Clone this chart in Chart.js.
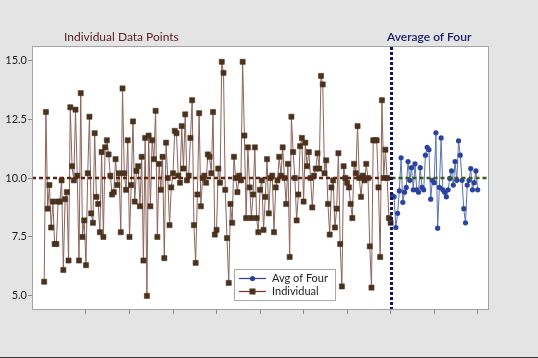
<!DOCTYPE html>
<html><head><meta charset="utf-8">
<style>
html,body{margin:0;padding:0;background:#e4e4e4;}
canvas{display:block;}
</style>
<script src="https://cdn.jsdelivr.net/npm/chart.js@4.4.1/dist/chart.umd.min.js"></script>
</head><body>
<canvas id="c" width="538" height="358"></canvas>
<script>
// ---- data ----
const individual = [
 5.6, 12.8, 8.7, 9.7, 7.9, 9.0, 7.2, 7.2, 9.0, 9.0, 9.9, 6.1, 9.1, 9.4, 6.5, 13.0, 10.5, 9.9, 12.9, 10.1,
 6.5, 13.6, 7.5, 8.2, 6.3, 10.2, 12.6, 8.5, 8.1, 11.9, 9.2, 8.9, 7.7, 11.1, 7.5, 11.3, 11.6, 11.0, 10.1, 9.3,
 9.4, 10.8, 9.7, 10.2, 7.7, 13.8,
 10.2, 9.5, 11.6, 7.5, 9.7, 12.4, 9.0, 10.3, 10.5, 8.8, 10.9, 6.5, 11.7, 5.0, 11.8, 8.8, 11.6, 10.8, 12.85, 7.5,
 10.6, 9.5, 10.9, 6.6, 11.5, 10.0, 8.0, 9.6, 10.2, 12.0, 11.9, 10.1, 9.8, 12.2, 10.4, 12.7, 9.9, 10.1, 11.7, 13.3,
 8.0, 6.4, 9.3, 12.75, 8.8, 10.0, 10.1, 9.8, 11.0,
 10.9, 10.2, 12.8, 7.6, 7.8, 10.4, 9.8, 14.93, 14.46, 9.5, 7.45, 5.55, 8.9, 8.1, 10.9, 10.0, 9.4, 10.1, 9.9, 14.93,
 11.8, 8.3, 11.3, 9.6, 8.3, 9.3, 11.3, 8.3, 7.7, 9.5, 9.9, 7.8, 9.2, 10.8, 8.5, 10.0, 10.1, 7.7, 9.6, 9.9,
 10.9, 10.1, 11.3, 10.0, 8.9, 10.6, 6.65, 12.6, 11.1, 10.0,
 8.2, 9.3, 11.35, 11.7, 9.0, 11.5, 10.5, 11.1, 10.0, 8.75, 10.1, 10.4, 11.05, 10.4, 14.33, 13.97, 10.2, 10.75, 8.9, 7.6,
 9.6, 9.9, 7.9, 8.7, 11.05, 7.2, 5.4, 10.5, 10.0, 9.8, 9.6, 8.9, 8.3, 10.6, 10.2, 12.2, 10.0, 9.2, 10.1, 9.9,
 10.6, 10.0, 7.1, 5.35, 11.6, 11.6, 11.6, 9.6, 6.65, 13.3, 10.0, 11.2, 10.0, 8.3, 8.1
];
const avgOfFour = [
 9.24, 9.2, 7.9, 8.5, 9.45, 10.86, 8.97, 9.4, 9.6, 10.7, 9.9, 10.44, 9.5, 10.6, 9.5, 9.4, 10.44, 9.6, 9.5, 10.97,
 11.3, 11.2, 9.1, 9.9, 9.8, 11.92, 7.87, 9.6, 11.7, 9.5, 9.4, 9.2, 9.5, 9.98, 10.3, 9.7, 10.7, 9.9, 11.58, 10.97,
 9.9, 8.7, 8.1, 9.7, 9.9, 10.4, 9.5, 9.8, 10.3, 9.5
];
const yTicks = [5.0, 7.5, 10.0, 12.5, 15.0];
const xTicks = [25, 50, 75, 100, 125, 150, 175, 200, 225, 250];
const targetLevel = 10;
const splitAt = 200.5;
const xRange = [-6, 256.5];
const yRange = [4.4, 15.6];
const titles = ["Individual Data Points", "Average of Four"];
const legendLabels = ["Avg of Four", "Individual"];

// ---- build chart data ----
const indPts = individual.map((v, i) => ({x: i + 1, y: v}));
const avgPts = avgOfFour.map((v, i) => ({x: individual.length + i + 1, y: v}));

const C_IND_LINE = '#8a655c', C_IND_PT = '#4a321f';
const C_AVG_LINE = '#5a74b0', C_AVG_PT = '#2a43a0';

const deco = {
  id: 'deco',
  beforeDraw(chart) {
    const {ctx, chartArea: a} = chart;
    ctx.save();
    ctx.fillStyle = '#e4e4e4';
    ctx.fillRect(0, 0, chart.width, chart.height);
    ctx.fillStyle = '#ffffff';
    ctx.fillRect(a.left, a.top, a.right - a.left, a.bottom - a.top);
    ctx.restore();
  },
  afterDraw(chart) {
    const {ctx, chartArea: a} = chart;
    ctx.save();
    ctx.strokeStyle = '#a4a4a4';
    ctx.lineWidth = 1;
    ctx.strokeRect(a.left + 0.5, a.top + 0.5, a.right - a.left - 1, a.bottom - a.top - 1);
    // titles
    ctx.textBaseline = 'alphabetic';
    ctx.font = '12px Lato';
    ctx.fillStyle = '#5e2424';
    ctx.fillText(titles[0], 64, 41);
    ctx.font = '600 12px Lato';
    ctx.fillStyle = '#1c1c68';
    ctx.fillText(titles[1], 387, 41);
    // legend
    const lx = 234.5, ly = 269.5, lw = 101, lh = 31;
    ctx.fillStyle = '#ffffff';
    ctx.fillRect(lx, ly, lw, lh);
    ctx.strokeStyle = '#a8a8a8';
    ctx.strokeRect(lx, ly, lw, lh);
    const rows = [278, 291];
    ctx.strokeStyle = '#2c3e8c'; ctx.lineWidth = 1.2;
    ctx.beginPath(); ctx.moveTo(239, rows[0] + 0.5); ctx.lineTo(266, rows[0] + 0.5); ctx.stroke();
    ctx.fillStyle = C_AVG_PT;
    ctx.beginPath(); ctx.arc(252.5, rows[0] + 0.5, 2.6, 0, Math.PI * 2); ctx.fill();
    ctx.strokeStyle = '#8b2a22';
    ctx.beginPath(); ctx.moveTo(239, rows[1] + 0.5); ctx.lineTo(266, rows[1] + 0.5); ctx.stroke();
    ctx.fillStyle = C_IND_PT;
    ctx.fillRect(249.5, rows[1] - 2.5, 6, 6);
    ctx.fillStyle = '#222222';
    ctx.font = '11px Lato';
    ctx.textBaseline = 'middle';
    ctx.fillText(legendLabels[0], 272, rows[0]);
    ctx.fillText(legendLabels[1], 272, rows[1]);
    ctx.fillStyle = '#3a3a3a';
    ctx.fillRect(0, chart.height - 1, chart.width, 1);
    ctx.restore();
  }
};

new Chart(document.getElementById('c'), {
  type: 'line',
  data: {
    datasets: [
      {
        label: 'split', data: [{x: splitAt, y: yRange[0]}, {x: splitAt, y: yRange[1]}],
        borderColor: '#14145c', borderWidth: 3, borderDash: [3, 2], pointRadius: 0, order: 0, clip: false
      },
      {
        label: 'mean-ind', data: [{x: xRange[0], y: targetLevel}, {x: splitAt, y: targetLevel}],
        borderColor: '#5e2412', borderWidth: 2.5, borderDash: [4, 3], pointRadius: 0, order: 0
      },
      {
        label: 'mean-avg', data: [{x: splitAt, y: targetLevel}, {x: xRange[1], y: targetLevel}],
        borderColor: '#3e5a1c', borderWidth: 2.5, borderDash: [4, 3], pointRadius: 0, order: 0
      },
      {
        label: legendLabels[0], data: avgPts,
        borderColor: C_AVG_LINE, borderWidth: 1, pointStyle: 'circle', pointRadius: 2.6,
        pointBackgroundColor: C_AVG_PT, pointBorderColor: C_AVG_PT, pointBorderWidth: 0, order: 1
      },
      {
        label: legendLabels[1], data: indPts,
        borderColor: C_IND_LINE, borderWidth: 1, pointStyle: 'rect', pointRadius: 3.6,
        pointBackgroundColor: C_IND_PT, pointBorderColor: C_IND_PT, pointBorderWidth: 0.6, order: 2
      }
    ]
  },
  options: {
    responsive: false,
    animation: false,
    devicePixelRatio: 1,
    layout: {padding: {top: 46, right: 49, left: 0, bottom: 0}},
    plugins: {legend: {display: false}, tooltip: {enabled: false}},
    elements: {line: {tension: 0}},
    scales: {
      x: {
        type: 'linear', min: xRange[0], max: xRange[1],
        afterBuildTicks: s => { s.ticks = xTicks.map(v => ({value: v})); },
        afterFit: s => { s.height = 48; },
        ticks: {display: false},
        grid: {display: true, drawOnChartArea: false, tickLength: 4, color: '#8a8a8a'},
        border: {display: false}
      },
      y: {
        type: 'linear', min: yRange[0], max: yRange[1],
        afterBuildTicks: s => { s.ticks = yTicks.map(v => ({value: v})); },
        afterFit: s => { s.width = 32; },
        ticks: {
          color: '#1e1e1e', font: {family: 'Lato', size: 11}, padding: 1,
          callback: v => Number(v).toFixed(1)
        },
        grid: {display: true, drawOnChartArea: false, tickLength: 4, color: '#8a8a8a'},
        border: {display: false}
      }
    }
  },
  plugins: [deco]
});
</script>
</body></html>
